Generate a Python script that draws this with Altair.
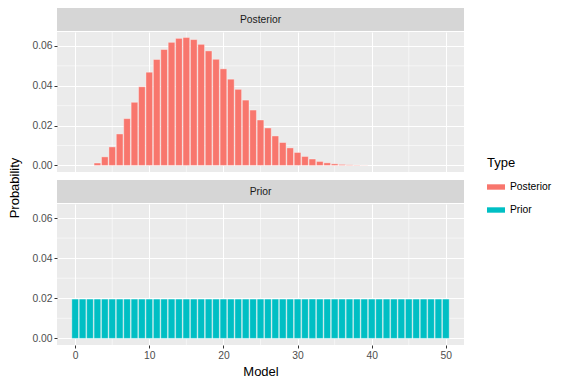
import altair as alt
import pandas as pd

models = list(range(51))
posterior = [0.0, 0.0, 0.0, 0.0012, 0.0043, 0.0093, 0.0158, 0.0235, 0.0317, 0.0395,
             0.0468, 0.0532, 0.0582, 0.0618, 0.0638, 0.0642, 0.0632, 0.0608, 0.0575, 0.0533,
             0.0485, 0.0433, 0.0382, 0.0328, 0.0278, 0.0228, 0.0188, 0.0148, 0.0115, 0.0088,
             0.0065, 0.0045, 0.0032, 0.0020, 0.0013, 0.0008, 0.0005, 0.0003, 0.0002, 0.0001,
             0.0, 0.0, 0.0, 0.0, 0.0, 0.0, 0.0, 0.0, 0.0, 0.0, 0.0]
prior = [0.0196] * 51
types = ["Posterior", "Prior"]
colors = ["#F8766D", "#00BFC4"]
y_major = [0.0, 0.02, 0.04, 0.06]
y_minor = [0.01, 0.03, 0.05]
x_major = [0, 10, 20, 30, 40, 50]
x_minor = [5, 15, 25, 35, 45]

W = 407
H1 = 140
H2 = 141
STRIP = 23
GAP = 7
FONT = "Liberation Sans"

xscale = alt.Scale(domain=[-2.45, 52.45], nice=False, zero=False)
yscale = alt.Scale(domain=[-0.0033, 0.0670], nice=False, zero=False)
cscale = alt.Scale(domain=types, range=colors)


def make_df(vals, t):
    return pd.DataFrame({
        "model": models,
        "x0": [m - 0.45 for m in models],
        "x1": [m + 0.45 for m in models],
        "p": vals,
        "Type": [t] * len(models),
    })


def strip(label, gap):
    d = pd.DataFrame({"label": [label]})
    bg = alt.Chart(d).mark_rect(color="#D6D6D6").encode(
        x=alt.value(0), x2=alt.value(W), y=alt.value(gap), y2=alt.value(gap + STRIP))
    tx = alt.Chart(d).mark_text(font=FONT, fontSize=10.3, color="#1A1A1A",
                                baseline="middle", align="center").encode(
        x=alt.value(W / 2), y=alt.value(gap + STRIP / 2), text="label:N")
    return alt.layer(bg, tx).properties(width=W, height=gap + STRIP)


def panel(df, height, bottom):
    if bottom:
        xaxis = alt.Axis(values=x_major, grid=True, gridColor="white", gridWidth=1.1,
                         labels=True, ticks=True, tickSize=3, tickColor="#333333",
                         labelColor="#4D4D4D", labelFontSize=10.3, labelPadding=2,
                         domain=False, title="Model", titleFontSize=13,
                         titleFontWeight="normal", titleColor="black", titlePadding=5)
    else:
        xaxis = alt.Axis(values=x_major, grid=True, gridColor="white", gridWidth=1.1,
                         labels=False, ticks=False, domain=False, title="")
    yaxis = alt.Axis(values=y_major, format=".2f", grid=True, gridColor="white",
                     gridWidth=1.1, tickSize=3, tickColor="#333333",
                     labelColor="#4D4D4D", labelFontSize=10.3, labelPadding=2,
                     domain=False, title="")
    ymin = alt.Chart(pd.DataFrame({"v": y_minor})).mark_rule(
        color="white", strokeWidth=0.55).encode(
        y=alt.Y("v:Q", scale=yscale, axis=yaxis))
    xmin = alt.Chart(pd.DataFrame({"v": x_minor})).mark_rule(
        color="white", strokeWidth=0.55).encode(
        x=alt.X("v:Q", scale=xscale, axis=xaxis))
    bars = alt.Chart(df).mark_bar(stroke="white", strokeOpacity=0.45,
                                  strokeWidth=0.8).encode(
        x=alt.X("x0:Q", scale=xscale, axis=xaxis),
        x2="x1:Q",
        y=alt.Y("p:Q", scale=yscale, axis=yaxis),
        y2=alt.datum(0),
        color=alt.Color("Type:N", scale=cscale, legend=alt.Legend(
            title="Type", orient="none", legendX=479, legendY=149,
            titleFontSize=13, titleFontWeight="normal", titleColor="black",
            labelFontSize=10.3, labelColor="black", labelOffset=5,
            symbolType="M-1,-0.3L1,-0.3L1,0.3L-1,0.3Z", symbolSize=324,
            symbolStrokeWidth=0, rowPadding=8, titlePadding=8)),
    )
    return alt.layer(ymin, xmin, bars).properties(
        width=W, height=height,
        view=alt.ViewBackground(fill="#EBEBEB", stroke=None))


TOTAL = STRIP + H1 + GAP + STRIP + H2
ytitle = alt.Chart(pd.DataFrame({"t": ["Probability"]})).mark_text(
    font=FONT, fontSize=13, color="black", angle=270,
    baseline="middle", align="center").encode(
    x=alt.value(7), y=alt.value(180), text="t:N").properties(width=14, height=TOTAL)

main = alt.vconcat(
    strip("Posterior", 0),
    panel(make_df(posterior, "Posterior"), H1, False),
    strip("Prior", GAP),
    panel(make_df(prior, "Prior"), H2, True),
    spacing=0,
)

chart = alt.hconcat(ytitle, main, spacing=9).properties(
    padding={"left": 0, "top": 0, "right": 0, "bottom": 0}
).configure(font=FONT).configure_view(stroke=None, fill=None)

chart.save("out.html", embed_options={"renderer": "svg", "actions": False})
